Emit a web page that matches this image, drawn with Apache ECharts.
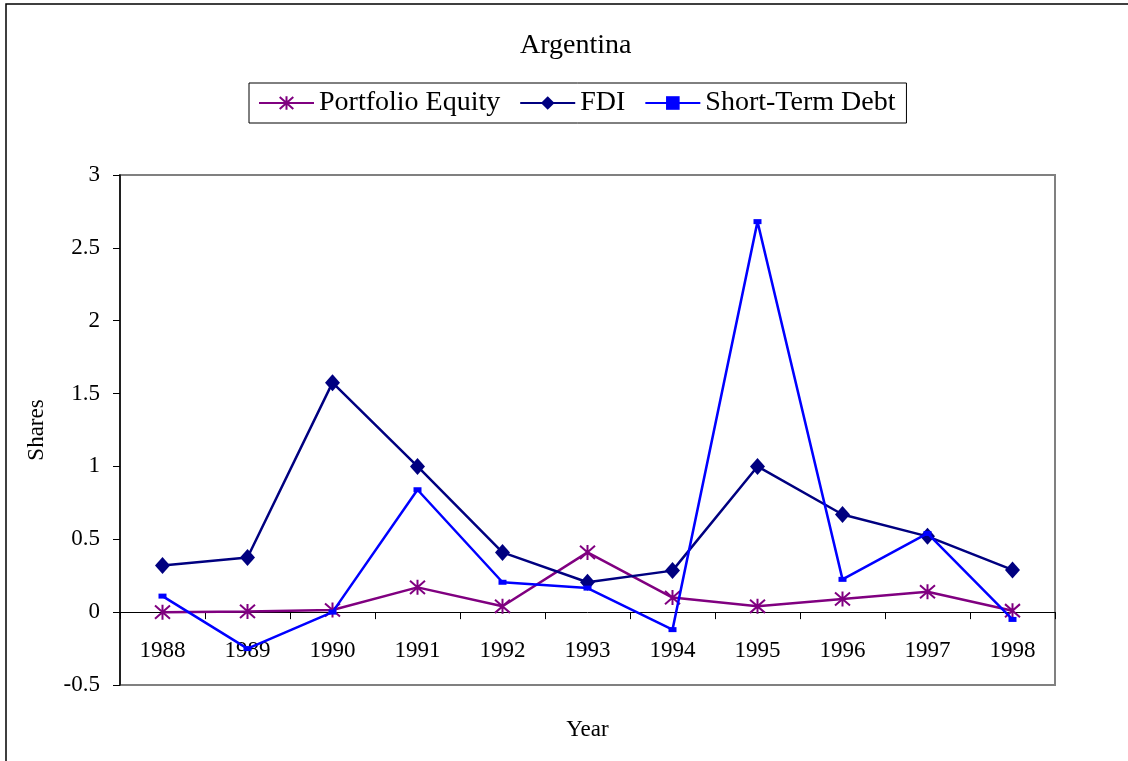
<!DOCTYPE html>
<html>
<head>
<meta charset="utf-8">
<script src="https://cdn.jsdelivr.net/npm/echarts@6/dist/echarts.min.js"></script>
<style>
    html, body { margin: 0; padding: 0; background: #fff; }
    #main { width: 1128px; height: 761px; }
</style>
</head>
<body>
<div id="main"></div>
<script>
    // data
    var years = ['1988', '1989', '1990', '1991', '1992', '1993', '1994', '1995', '1996', '1997', '1998'];
    var portfolioEquity = [0.0, 0.005, 0.015, 0.17, 0.04, 0.41, 0.10, 0.04, 0.09, 0.14, 0.01];
    var fdi = [0.32, 0.375, 1.575, 1.0, 0.41, 0.205, 0.285, 1.0, 0.67, 0.52, 0.29];
    var shortTermDebt = [0.11, -0.25, 0.0, 0.84, 0.205, 0.165, -0.12, 2.68, 0.225, 0.54, -0.05];

    var serif = '"Liberation Serif", "Times New Roman", serif';
    var asterisk = 'path://M0,-8L0,8M-7,-7L7,7M-7,7L7,-7';

    var myChart = echarts.init(document.getElementById('main'));

    var option = {
        backgroundColor: '#fff',
        animation: false,
        textStyle: { fontFamily: serif, color: '#000' },
        title: {
            text: 'Argentina',
            left: 515,
            top: 27,
            textStyle: { fontFamily: serif, fontSize: 28, fontWeight: 'normal', color: '#000' }
        },
        legend: {
            left: 249,
            top: 83,
            padding: [6, 11, 6, 9],
            itemGap: 19,
            itemWidth: 55,
            itemHeight: 17,
            borderColor: '#000',
            borderWidth: 1,
            textStyle: { fontFamily: serif, fontSize: 28, color: '#000' },
            data: ['Portfolio Equity', 'FDI', 'Short-Term Debt']
        },
        graphic: [
            {
                type: 'rect',
                shape: { x: 6, y: 4, width: 1200, height: 800 },
                style: { fill: 'none', stroke: '#000', lineWidth: 1.5 },
                silent: true
            }
        ],
        grid: {
            left: 120,
            right: 73,
            top: 175,
            bottom: 76,
            outerBoundsMode: 'none',
            containLabel: false,
            show: true,
            borderColor: '#808080',
            borderWidth: 2,
            backgroundColor: '#fff'
        },
        xAxis: {
            type: 'category',
            data: years,
            boundaryGap: true,
            name: 'Year',
            nameLocation: 'middle',
            nameGap: 33,
            nameTextStyle: { fontFamily: serif, fontSize: 23, color: '#000' },
            axisLine: { onZero: true, lineStyle: { color: '#000', width: 1 } },
            axisTick: { show: true, length: 7, lineStyle: { color: '#000' } },
            // labels sit just under the zero line, not under the plot frame
            axisLabel: { margin: -46, fontFamily: serif, fontSize: 23, color: '#000' },
            splitLine: { show: false }
        },
        yAxis: {
            type: 'value',
            min: -0.5,
            max: 3,
            interval: 0.5,
            name: 'Shares',
            nameLocation: 'middle',
            nameGap: 72,
            nameTextStyle: { fontFamily: serif, fontSize: 23, color: '#000' },
            axisLine: { show: true, onZero: false, lineStyle: { color: '#000', width: 1.5 } },
            axisTick: { show: true, length: 7, lineStyle: { color: '#000' } },
            axisLabel: { margin: 20, fontFamily: serif, fontSize: 23, color: '#000' },
            splitLine: { show: false }
        },
        series: [
            {
                name: 'Portfolio Equity',
                type: 'line',
                data: portfolioEquity,
                symbol: asterisk,
                symbolSize: 15,
                lineStyle: { color: '#800080', width: 2.5 },
                itemStyle: { color: '#800080', borderColor: '#800080', borderWidth: 2 },
                z: 3
            },
            {
                name: 'FDI',
                type: 'line',
                data: fdi,
                symbol: 'diamond',
                symbolSize: [15, 17],
                lineStyle: { color: '#000080', width: 2.5 },
                itemStyle: { color: '#000080', borderColor: '#000080', borderWidth: 0 },
                z: 4
            },
            {
                name: 'Short-Term Debt',
                type: 'line',
                data: shortTermDebt,
                symbol: 'rect',
                symbolSize: [8, 5],
                lineStyle: { color: '#0000ff', width: 2.5 },
                itemStyle: { color: '#0000ff', borderColor: '#0000ff', borderWidth: 0 },
                z: 5
            }
        ]
    };

    myChart.setOption(option);
</script>
</body>
</html>
